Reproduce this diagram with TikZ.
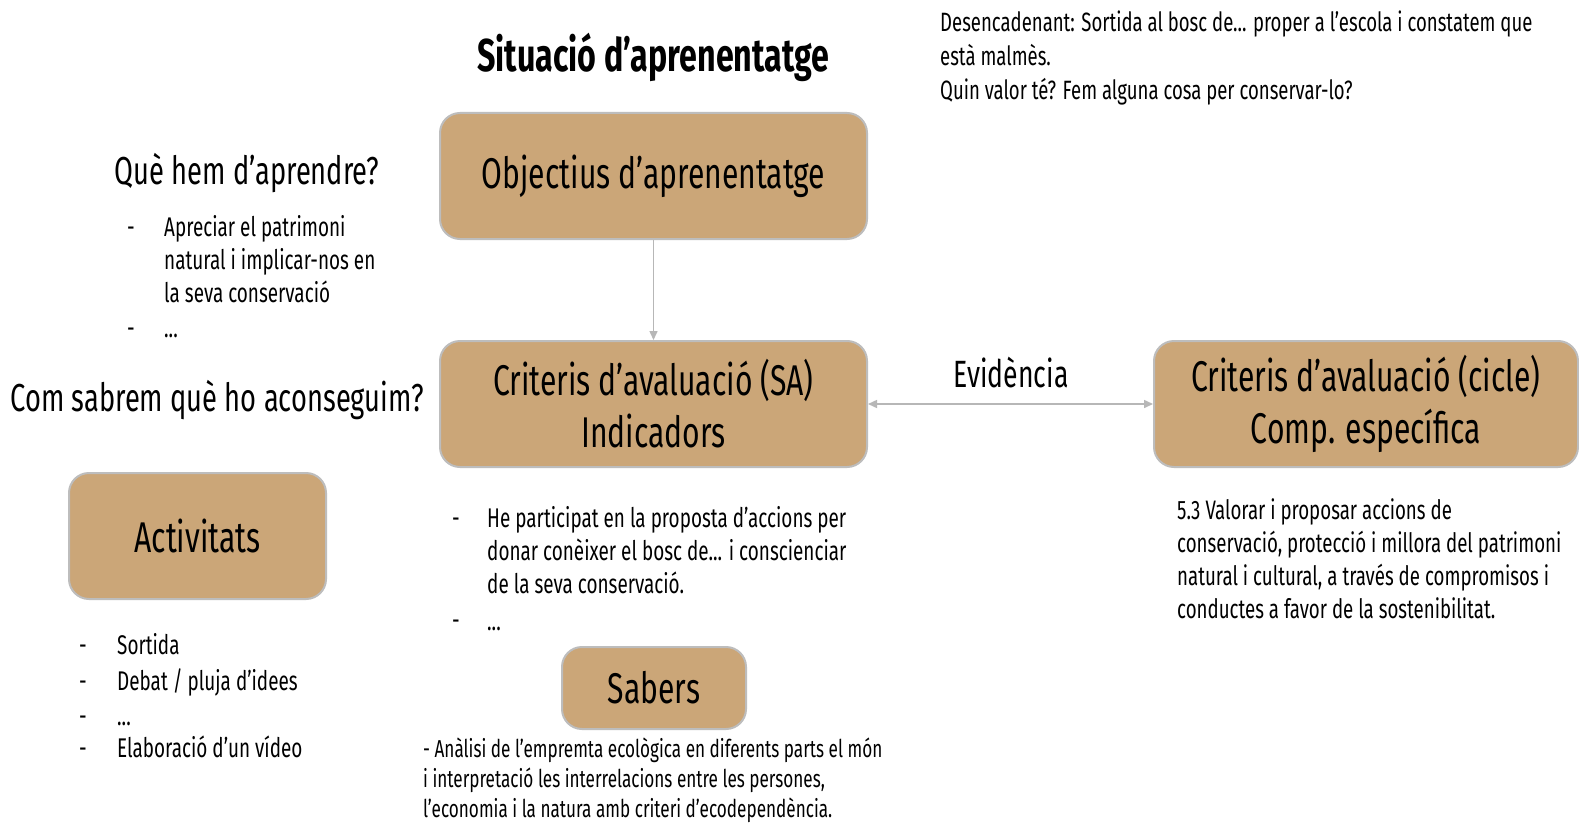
\documentclass[tikz,border=0pt]{standalone}
\usepackage{fontspec}
\setmainfont{Fira Sans}[FakeStretch=0.7]
\usetikzlibrary{arrows.meta}
\definecolor{tanfill}{HTML}{CBA678}
\definecolor{edgegray}{HTML}{BDBDBD}
\definecolor{arrowgray}{HTML}{B7B7B7}
\tikzset{
  box/.style={draw=edgegray, line width=2pt, fill=tanfill, rounded corners=20pt, align=center, inner sep=0pt, font=\fontsize{43}{52}\selectfont},
  body/.style={anchor=north west, align=left, inner sep=0pt, font=\fontsize{27}{33}\selectfont},
  head/.style={inner sep=0pt, font=\fontsize{39}{48}\selectfont},
  conn/.style={draw=arrowgray, line width=1.5pt, -{Triangle[length=9pt,width=8pt]}},
}
\begin{document}
\begin{tikzpicture}[x=1pt,y=-1pt]
\useasboundingbox[fill=white] (0,0) rectangle (1579,824);

\node[head, font=\bfseries\fontsize{46}{52}\selectfont] (title) at (653,57) {Situació d’aprenentatge};

\node[box, minimum width=427pt, minimum height=126pt] (obj) at (653.5,176) {Objectius d’aprenentatge};
\node[box, minimum width=427pt, minimum height=126pt] (sa) at (653.5,404) {Criteris d’avaluació (SA)\\Indicadors};
\node[box, minimum width=424pt, minimum height=126pt] (cic) at (1366,404) {Criteris d’avaluació (cicle)\\Comp. específica};
\node[box, minimum width=257pt, minimum height=126pt] (act) at (197.5,536) {Activitats};
\node[box, minimum width=184pt, minimum height=82pt] (sab) at (654,688) {Sabers};

\draw[conn] (obj) -- (sa);
\draw[conn, {Triangle[length=9pt,width=8pt]}-{Triangle[length=9pt,width=8pt]}] (sa) -- (cic);
\node[head, font=\fontsize{38}{46}\selectfont] (evi) at (1011,373) {Evidència};

\node[head] (que) at (247,173) {Què hem d’aprendre?};
\node[head] (com) at (217,400) {Com sabrem què ho aconseguim?};

\node[body, font=\fontsize{26.5}{34}\selectfont] (desc) at (940,8) {\strut Desencadenant: Sortida al bosc de... proper a l’escola i constatem que\\està malmès.\\Quin valor té? Fem alguna cosa per conservar-lo?};

\node[body] (d1) at (127,213) {\strut-};
\node[body] (d2) at (127,314) {\strut-};
\node[body] (obl) at (164,213) {\strut Apreciar el patrimoni\\natural i implicar-nos en\\la seva conservació\\[2pt]...};

\node[body] (sd1) at (452,504) {\strut-};
\node[body] (sd2) at (452,606) {\strut-};
\node[body] (sal) at (487,504) {\strut He participat en la proposta d’accions per\\donar conèixer el bosc de... i conscienciar\\de la seva conservació.\\[4pt]...};

\node[body] (ad1) at (79,631) {\strut-};
\node[body] (ad2) at (79,667) {\strut-};
\node[body] (ad3) at (79,702) {\strut-};
\node[body] (ad4) at (79,734) {\strut-};
\node[body] (a1) at (117,631) {\strut Sortida};
\node[body] (a2) at (117,667) {\strut Debat / pluja d’idees};
\node[body] (a3) at (117,702) {\strut ...};
\node[body] (a4) at (117,734) {\strut Elaboració d’un vídeo};

\node[body, font=\fontsize{24.5}{30}\selectfont] (sbt) at (423,736) {\strut - Anàlisi de l’empremta ecològica en diferents parts el món\\i interpretació les interrelacions entre les persones,\\l’economia i la natura amb criteri d’ecodependència.};

\node[body, font=\fontsize{26.7}{33}\selectfont] (cit) at (1177,496) {\strut 5.3 Valorar i proposar accions de\\conservació, protecció i millora del patrimoni\\natural i cultural, a través de compromisos i\\conductes a favor de la sostenibilitat.};
\end{tikzpicture}
\end{document}
